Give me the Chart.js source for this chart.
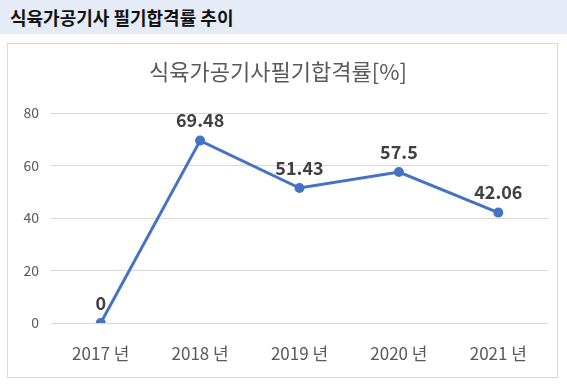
<!DOCTYPE html>
<html>
<head>
<meta charset="utf-8">
<script src="https://cdn.jsdelivr.net/npm/chart.js@4"></script>
<style>
  body { margin: 0; background: #fff; font-family: "Noto Sans CJK KR", sans-serif; }
  .header { position: absolute; left: 0; top: 0; width: 567px; height: 34px; background: #e5ebf7; }
  .header h1 { margin: 0; position: absolute; left: 10px; top: 4px; font-size: 18px; line-height: 26px; font-weight: bold; color: #111; }
  .box { position: absolute; left: 7px; top: 43px; width: 549px; height: 333px; border: 1px solid #d9d9d9; }
</style>
</head>
<body>
<div class="header"><h1>식육가공기사 필기합격률 추이</h1></div>
<div class="box"><canvas id="chart" width="549" height="333"></canvas></div>
<script>
// values
const years = ['2017 년', '2018 년', '2019 년', '2020 년', '2021 년'];
const passRate = [0, 69.48, 51.43, 57.5, 42.06];
const rateLabels = ['0', '69.48', '51.43', '57.5', '42.06'];

// draws the number above each point
const valueLabels = {
    id: 'valueLabels',
    afterDatasetsDraw(chart) {
        const ctx = chart.ctx;
        const meta = chart.getDatasetMeta(0);
        ctx.save();
        ctx.font = 'bold 18px "Noto Sans CJK KR", sans-serif';
        ctx.fillStyle = '#404040';
        ctx.textAlign = 'center';
        ctx.textBaseline = 'bottom';
        meta.data.forEach((pt, i) => {
            ctx.fillText(rateLabels[i], pt.x, pt.y - 11);
        });
        ctx.restore();
    }
};

const ctx = document.getElementById('chart').getContext('2d');
let chart = new Chart(ctx, {
    type: 'line',
    data: {
        labels: years,
        datasets: [{
            data: passRate,
            borderColor: '#4472c4',
            backgroundColor: '#4472c4',
            borderWidth: 3,
            pointRadius: 3.5,
            pointHoverRadius: 3.5,
            tension: 0,
            fill: false
        }]
    },
    options: {
        responsive: false,
        animation: false,
        layout: { padding: { left: 0, right: 9, top: 0, bottom: 0 } },
        plugins: {
            legend: { display: false },
            tooltip: { enabled: false },
            title: {
                display: true,
                text: '식육가공기사필기합격률[%]',
                color: '#595959',
                font: { family: '"Noto Sans CJK KR", sans-serif', size: 22, weight: 'normal' },
                padding: { top: 14, bottom: 28.6 }
            }
        },
        scales: {
            x: {
                offset: true,
                grid: { display: false, drawTicks: false },
                border: { display: false },
                ticks: {
                    color: '#595959',
                    padding: 20,
                    font: { family: '"Noto Sans CJK KR", sans-serif', size: 17 }
                },
                afterFit(scale) { scale.height = 54; }
            },
            y: {
                min: 0,
                max: 80,
                border: { display: false },
                grid: { color: '#d9d9d9', drawTicks: false },
                ticks: {
                    stepSize: 20,
                    color: '#595959',
                    padding: 12,
                    font: { family: '"Noto Sans CJK KR", sans-serif', size: 14 }
                },
                afterFit(scale) { scale.width = 43; }
            }
        }
    },
    plugins: [valueLabels]
});
</script>
</body>
</html>
